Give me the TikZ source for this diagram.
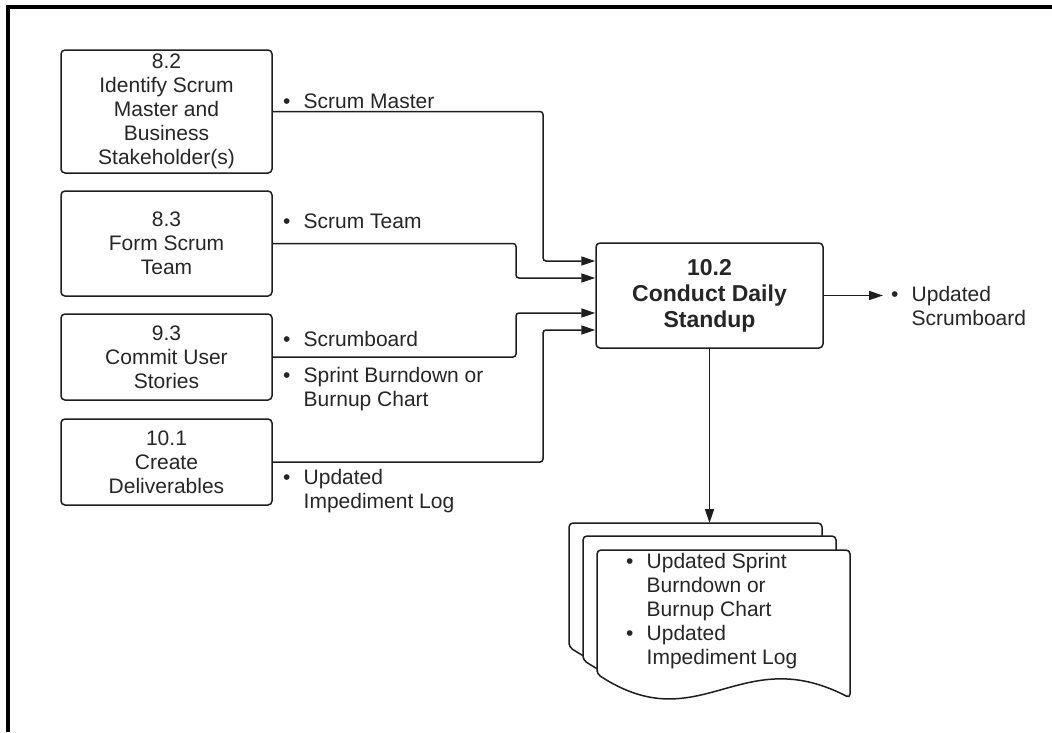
\documentclass[tikz,border=0pt]{standalone}
\usepackage{fontspec}
\setmainfont{Liberation Sans}
\usetikzlibrary{arrows.meta}
\definecolor{linec}{HTML}{1E1E1E}
\definecolor{txtc}{HTML}{262626}
\newcommand{\bl}{\makebox[20.5pt][l]{•}}
\newcommand{\ind}{\hspace*{20.5pt}}
\newcommand{\docpath}[2]{\filldraw[docs] (#1,#2+124) -- (#1,#2) -- (#1+253,#2) -- (#1+253,#2+148) .. controls (#1+143,#2+91) and (#1+103,#2+191) .. (#1,#2+124) -- cycle;}
\begin{document}
\begin{tikzpicture}[x=1pt,y=-1pt,
  box/.style={draw=linec,line width=1.5pt,rounded corners=4pt,align=center,inner sep=0pt,
    font=\fontsize{21}{24}\selectfont,text=txtc,minimum width=211pt},
  mainbox/.style={draw=linec,line width=1.5pt,rounded corners=4pt,align=center,inner sep=0pt,
    font=\fontsize{23}{26}\selectfont\bfseries,text=txtc,minimum width=227pt,minimum height=105pt},
  lbl/.style={inner sep=0pt,anchor=base west,font=\fontsize{21}{24}\selectfont,text=txtc},
  conn/.style={draw=linec,line width=1.5pt,rounded corners=3pt},
  arr/.style={conn,-{Triangle[length=14pt,width=9pt]}},
  docs/.style={draw=linec,fill=white,line width=1.5pt,rounded corners=4pt}]
\useasboundingbox (0,0) rectangle (1052,732);
\fill[white] (0,0) rectangle (1052,732);
\draw[line width=4pt,black] (8,732) -- (8,6.5) -- (1052,6.5);

% left boxes
\node[box,minimum height=123pt] (b82) at (166.5,111.5) {8.2\\Identify Scrum\\Master and\\Business\\Stakeholder(s)};
\node[box,minimum height=105pt] (b83) at (166.5,243.5) {8.3\\Form Scrum\\Team};
\node[box,minimum height=86pt] (b93) at (166.5,357) {9.3\\Commit User\\Stories};
\node[box,minimum height=86pt] (b101) at (166.5,462) {10.1\\Create\\Deliverables};

% main process
\node[mainbox] (main) at (709.5,295.5) {10.2\\Conduct Daily\\Standup};

% labels
\node[lbl] (lsm) at (283,108) {\bl Scrum Master};
\node[lbl] (lst) at (283,228) {\bl Scrum Team};
\node[lbl] (lsb) at (283,346) {\bl Scrumboard};
\node[lbl] (lsp) at (283,382) {\begin{tabular}[t]{@{}l@{}}\bl Sprint Burndown or\\ \ind Burnup Chart\end{tabular}};
\node[lbl] (lil) at (283,484) {\begin{tabular}[t]{@{}l@{}}\bl Updated\\ \ind Impediment Log\end{tabular}};
\node[lbl] (lout) at (891,301) {\begin{tabular}[t]{@{}l@{}}\bl Updated\\ \ind Scrumboard\end{tabular}};

% connectors into main
\draw[arr] (b82.east) -- (543,111.5) -- (543,261) -- (main.west |- 0,261);
\draw[arr] (b83.east) -- (516,243.5) -- (516,278) -- (main.west |- 0,278);
\draw[arr] (b93.east) -- (516,357) -- (516,313) -- (main.west |- 0,313);
\draw[arr] (b101.east) -- (543,462) -- (543,330) -- (main.west |- 0,330);

% output
\coordinate (outend) at (883,295.5);
\draw[arr] (main.east) -- (outend);

% documents
\docpath{569}{523}
\docpath{583}{536}
\docpath{597}{550}
\node[lbl] (ldoc) at (626,568) {\begin{tabular}[t]{@{}l@{}}\bl Updated Sprint\\ \ind Burndown or\\ \ind Burnup Chart\\ \bl Updated\\ \ind Impediment Log\end{tabular}};
\coordinate (doctop) at (main.south |- 0,523);
\draw[arr] (main.south) -- (doctop);
\end{tikzpicture}
\end{document}
